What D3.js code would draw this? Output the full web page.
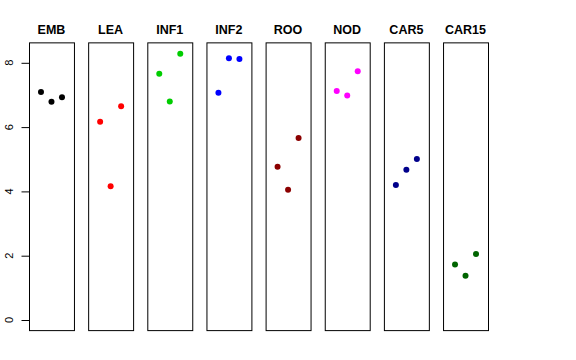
<!DOCTYPE html>
<html><head><meta charset="utf-8">
<script src="https://cdn.jsdelivr.net/npm/d3@7"></script>
<style>body{margin:0;background:#fff}svg{display:block}</style>
</head><body>
<script>
const categories = ["EMB","LEA","INF1","INF2","ROO","NOD","CAR5","CAR15"];
const colors = ["#000000","#FF0000","#00CD00","#0000FF","#8B0000","#FF00FF","#00008B","#006400"];
const rep1 = [7.09, 6.17, 7.66, 7.07, 4.77, 7.12, 4.20, 1.73];
const rep2 = [6.79, 4.16, 6.80, 8.14, 4.05, 6.98, 4.67, 1.38];
const rep3 = [6.93, 6.65, 8.28, 8.12, 5.66, 7.74, 5.01, 2.05];
const yTicks = [0, 2, 4, 6, 8];

const W = 576, H = 360;
const svg = d3.select("body").append("svg").attr("width", W).attr("height", H);

const x = d3.scaleBand().domain(categories).range([29, 488]).paddingInner(0.24).paddingOuter(0);
const y = d3.scaleLinear().domain([0, 8]).range([320, 62.8]);
const xr = d3.scalePoint().domain([0, 1, 2]).range([-10.5, 10.5]);
const yTop = y(8.62), yBot = y(-0.33);

const reps = [rep1, rep2, rep3];
categories.forEach((c, i) => {
  const g = svg.append("g").attr("transform", `translate(${x(c)},0)`);
  g.append("rect").attr("x", 0.5).attr("y", yTop).attr("width", x.bandwidth()).attr("height", yBot - yTop)
    .attr("fill", "none").attr("stroke", "#000").attr("stroke-width", 1);
  g.append("text").attr("x", x.bandwidth() / 2).attr("y", 34).attr("text-anchor", "middle")
    .attr("font-family", "Liberation Sans, Arial, sans-serif").attr("font-weight", "bold").attr("font-size", 12.5)
    .text(c);
  g.selectAll("circle").data(reps.map(r => r[i])).enter().append("circle")
    .attr("cx", (d, j) => x.bandwidth() / 2 + xr(j))
    .attr("cy", d => y(d)).attr("r", 3).attr("fill", colors[i]);
});

const ax = svg.append("g").attr("transform", "translate(29,0)");
ax.call(d3.axisLeft(y).tickValues(yTicks).tickSize(7.5).tickFormat(d3.format("d")));
ax.select(".domain").remove();
ax.selectAll(".tick line").attr("stroke", "#000");
ax.selectAll(".tick text").remove();
ax.append("line").attr("x1", 0.5).attr("x2", 0.5).attr("y1", y(0)).attr("y2", y(8)).attr("stroke", "#000");
yTicks.forEach(t => {
  svg.append("text").attr("transform", `translate(12.7,${y(t)}) rotate(-90)`).attr("text-anchor", "middle")
    .attr("font-family", "Liberation Sans, Arial, sans-serif").attr("font-size", 11).text(t);
});
</script>
</body></html>
